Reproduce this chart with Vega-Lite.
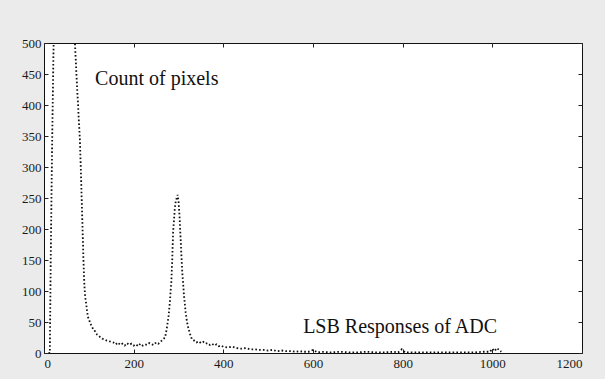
{
  "$schema": "https://vega.github.io/schema/vega-lite/v6.json",
  "autosize": {"type": "none"},
  "width": 538,
  "height": 310,
  "padding": {"left": 44, "top": 43, "right": 23, "bottom": 26},
  "background": "#ebebeb",
  "config": {
    "view": {"fill": "white", "stroke": "#111", "strokeWidth": 1},
    "axis": {
      "grid": false,
      "domain": false,
      "tickColor": "#222",
      "tickWidth": 1,
      "tickSize": -4,
      "title": null
    }
  },
  "datasets": {
    "hist": [
      {"lsb": 10, "count": 0}, {"lsb": 13, "count": 0}, {"lsb": 15, "count": 150}, {"lsb": 18, "count": 330},
      {"lsb": 21, "count": 480}, {"lsb": 23, "count": 560}, {"lsb": 26, "count": 700}, {"lsb": 40, "count": 1100},
      {"lsb": 55, "count": 900}, {"lsb": 65, "count": 600}, {"lsb": 69, "count": 500}, {"lsb": 72, "count": 455},
      {"lsb": 74, "count": 425}, {"lsb": 76, "count": 400}, {"lsb": 78, "count": 370}, {"lsb": 80, "count": 345},
      {"lsb": 82, "count": 300}, {"lsb": 84, "count": 250}, {"lsb": 86, "count": 200}, {"lsb": 88, "count": 150},
      {"lsb": 90, "count": 110}, {"lsb": 92, "count": 90}, {"lsb": 94, "count": 80}, {"lsb": 96, "count": 68},
      {"lsb": 98, "count": 58}, {"lsb": 100, "count": 55}, {"lsb": 103, "count": 48}, {"lsb": 106, "count": 44},
      {"lsb": 110, "count": 38}, {"lsb": 114, "count": 35}, {"lsb": 118, "count": 30}, {"lsb": 122, "count": 28},
      {"lsb": 126, "count": 25}, {"lsb": 130, "count": 23}, {"lsb": 135, "count": 22}, {"lsb": 140, "count": 20},
      {"lsb": 145, "count": 19}, {"lsb": 150, "count": 18}, {"lsb": 155, "count": 17}, {"lsb": 160, "count": 14},
      {"lsb": 165, "count": 17}, {"lsb": 170, "count": 13}, {"lsb": 175, "count": 15}, {"lsb": 180, "count": 12},
      {"lsb": 185, "count": 16}, {"lsb": 190, "count": 13}, {"lsb": 195, "count": 15}, {"lsb": 200, "count": 12},
      {"lsb": 205, "count": 14}, {"lsb": 210, "count": 11}, {"lsb": 215, "count": 15}, {"lsb": 220, "count": 12},
      {"lsb": 225, "count": 14}, {"lsb": 230, "count": 13}, {"lsb": 235, "count": 16}, {"lsb": 240, "count": 14},
      {"lsb": 245, "count": 13}, {"lsb": 250, "count": 17}, {"lsb": 255, "count": 15}, {"lsb": 260, "count": 18},
      {"lsb": 265, "count": 22}, {"lsb": 270, "count": 25}, {"lsb": 274, "count": 40}, {"lsb": 278, "count": 60},
      {"lsb": 281, "count": 85}, {"lsb": 284, "count": 115}, {"lsb": 286, "count": 150}, {"lsb": 288, "count": 195},
      {"lsb": 290, "count": 215}, {"lsb": 292, "count": 235}, {"lsb": 294, "count": 245}, {"lsb": 296, "count": 250},
      {"lsb": 298, "count": 255}, {"lsb": 300, "count": 245}, {"lsb": 302, "count": 225}, {"lsb": 304, "count": 195},
      {"lsb": 306, "count": 165}, {"lsb": 308, "count": 135}, {"lsb": 310, "count": 115}, {"lsb": 312, "count": 95},
      {"lsb": 314, "count": 80}, {"lsb": 316, "count": 65}, {"lsb": 319, "count": 50}, {"lsb": 322, "count": 40},
      {"lsb": 326, "count": 30}, {"lsb": 330, "count": 22}, {"lsb": 335, "count": 20}, {"lsb": 340, "count": 17},
      {"lsb": 345, "count": 19}, {"lsb": 350, "count": 16}, {"lsb": 355, "count": 18}, {"lsb": 360, "count": 15},
      {"lsb": 365, "count": 16}, {"lsb": 370, "count": 13}, {"lsb": 375, "count": 15}, {"lsb": 380, "count": 12},
      {"lsb": 385, "count": 14}, {"lsb": 390, "count": 11}, {"lsb": 395, "count": 12}, {"lsb": 400, "count": 10},
      {"lsb": 410, "count": 9}, {"lsb": 420, "count": 10}, {"lsb": 430, "count": 8}, {"lsb": 440, "count": 7},
      {"lsb": 450, "count": 8}, {"lsb": 460, "count": 6}, {"lsb": 470, "count": 6}, {"lsb": 480, "count": 5},
      {"lsb": 490, "count": 5}, {"lsb": 500, "count": 4}, {"lsb": 510, "count": 5}, {"lsb": 520, "count": 3},
      {"lsb": 530, "count": 4}, {"lsb": 540, "count": 3}, {"lsb": 550, "count": 3}, {"lsb": 560, "count": 2},
      {"lsb": 570, "count": 3}, {"lsb": 580, "count": 2}, {"lsb": 590, "count": 2}, {"lsb": 600, "count": 5},
      {"lsb": 610, "count": 1}, {"lsb": 620, "count": 2}, {"lsb": 640, "count": 1}, {"lsb": 660, "count": 2},
      {"lsb": 680, "count": 1}, {"lsb": 700, "count": 1}, {"lsb": 720, "count": 2}, {"lsb": 740, "count": 1},
      {"lsb": 760, "count": 1}, {"lsb": 780, "count": 2}, {"lsb": 790, "count": 1}, {"lsb": 798, "count": 6},
      {"lsb": 805, "count": 1}, {"lsb": 820, "count": 1}, {"lsb": 840, "count": 1}, {"lsb": 860, "count": 1},
      {"lsb": 880, "count": 1}, {"lsb": 900, "count": 1}, {"lsb": 920, "count": 1}, {"lsb": 940, "count": 1},
      {"lsb": 960, "count": 1}, {"lsb": 980, "count": 2}, {"lsb": 995, "count": 2}, {"lsb": 1000, "count": 7},
      {"lsb": 1005, "count": 3}, {"lsb": 1010, "count": 8}, {"lsb": 1015, "count": 5}, {"lsb": 1020, "count": 2}
    ],
    "notes": [
      {"lsb": 114, "count": 432, "label": "Count of pixels"},
      {"lsb": 578, "count": 32, "label": "LSB Responses of ADC"}
    ]
  },
  "layer": [
    {
      "data": {"name": "hist"},
      "mark": {"type": "line", "clip": true, "color": "#111", "strokeWidth": 1.8, "strokeDash": [1.6, 2.2]},
      "encoding": {
        "x": {"field": "lsb", "type": "quantitative", "scale": {"domain": [0, 1200], "nice": false},
              "axis": {"orient": "bottom", "values": [0, 200, 400, 600, 800, 1000, 1200], "format": "d", "labelPadding": 8,
                       "labelFont": "Liberation Serif", "labelFontSize": 13, "labelColor": "#1a1a1a",
                       "encode": {"labels": {"update": {"font": {"value": "Liberation Serif"}, "fontSize": {"value": 13}, "fill": {"value": "#1a1a1a"}}}}}},
        "y": {"field": "count", "type": "quantitative", "scale": {"domain": [0, 500], "nice": false},
              "axis": {"orient": "left", "values": [0, 50, 100, 150, 200, 250, 300, 350, 400, 450, 500], "format": "d", "labelPadding": 7,
                       "labelFont": "Liberation Serif", "labelFontSize": 13, "labelColor": "#1a1a1a",
                       "encode": {"labels": {"update": {"font": {"value": "Liberation Serif"}, "fontSize": {"value": 13}, "fill": {"value": "#1a1a1a"}}}}}}
      }
    },
    {
      "data": {"name": "notes"},
      "mark": {"type": "text", "font": "Liberation Serif", "fontSize": 20, "align": "left", "baseline": "alphabetic", "color": "#111"},
      "encoding": {
        "x": {"field": "lsb", "type": "quantitative", "scale": {"domain": [0, 1200], "nice": false},
              "axis": {"orient": "top", "values": [0, 200, 400, 600, 800, 1000, 1200], "labels": false}},
        "y": {"field": "count", "type": "quantitative", "scale": {"domain": [0, 500], "nice": false},
              "axis": {"orient": "right", "values": [0, 50, 100, 150, 200, 250, 300, 350, 400, 450, 500], "labels": false}},
        "text": {"field": "label"}
      }
    }
  ],
  "resolve": {"scale": {"x": "independent", "y": "independent"}}
}
